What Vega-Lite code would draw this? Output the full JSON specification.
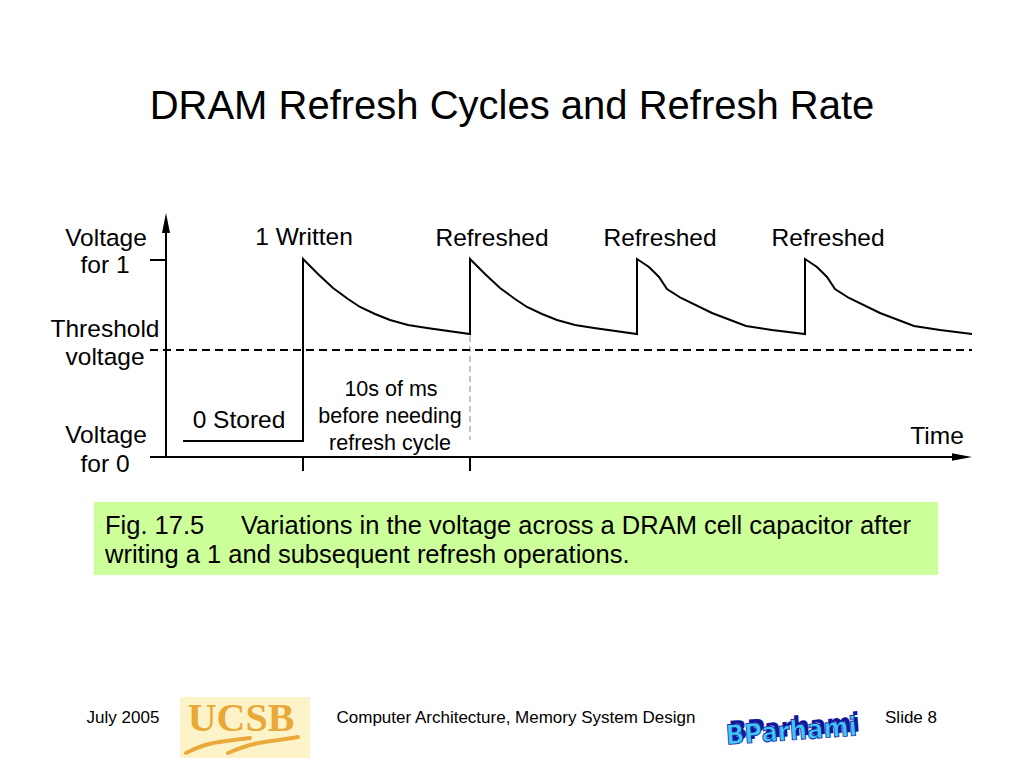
{
  "$schema": "https://vega.github.io/schema/vega-lite/v6.json",
  "autosize": {"type": "fit", "contains": "padding"},
  "width": 1024,
  "height": 768,
  "padding": 0,
  "background": "white",
  "config": {"view": {"stroke": null}, "font": "Liberation Sans"},
  "datasets": {
    "wave": [
      {"i": 0, "x": 183, "y": 441}, {"i": 1, "x": 303, "y": 441},
      {"i": 2, "x": 303, "y": 259}, {"i": 3, "x": 318, "y": 274}, {"i": 4, "x": 333, "y": 288}, {"i": 5, "x": 348, "y": 299}, {"i": 6, "x": 360, "y": 307}, {"i": 7, "x": 375, "y": 314}, {"i": 8, "x": 390, "y": 320}, {"i": 9, "x": 408, "y": 325}, {"i": 10, "x": 427, "y": 328}, {"i": 11, "x": 470, "y": 334},
      {"i": 12, "x": 470, "y": 259}, {"i": 13, "x": 485, "y": 274}, {"i": 14, "x": 500, "y": 288}, {"i": 15, "x": 515, "y": 299}, {"i": 16, "x": 527, "y": 307}, {"i": 17, "x": 542, "y": 314}, {"i": 18, "x": 557, "y": 320}, {"i": 19, "x": 575, "y": 325}, {"i": 20, "x": 594, "y": 328}, {"i": 21, "x": 637, "y": 334},
      {"i": 22, "x": 637, "y": 259}, {"i": 23, "x": 649, "y": 267}, {"i": 24, "x": 659, "y": 277}, {"i": 25, "x": 667, "y": 289}, {"i": 26, "x": 681, "y": 298}, {"i": 27, "x": 712, "y": 313}, {"i": 28, "x": 746, "y": 326}, {"i": 29, "x": 772, "y": 330}, {"i": 30, "x": 805, "y": 334},
      {"i": 31, "x": 805, "y": 259}, {"i": 32, "x": 817, "y": 267}, {"i": 33, "x": 827, "y": 277}, {"i": 34, "x": 835, "y": 289}, {"i": 35, "x": 849, "y": 298}, {"i": 36, "x": 880, "y": 313}, {"i": 37, "x": 914, "y": 326}, {"i": 38, "x": 940, "y": 330}, {"i": 39, "x": 972, "y": 334}
    ],
    "axes": [
      {"x": 166, "y": 457, "x2": 166, "y2": 226},
      {"x": 150, "y": 260, "x2": 166, "y2": 260},
      {"x": 150, "y": 457, "x2": 956, "y2": 457},
      {"x": 303, "y": 457, "x2": 303, "y2": 471},
      {"x": 470, "y": 457, "x2": 470, "y2": 471}
    ],
    "threshold": [{"x": 150, "y": 350, "x2": 972, "y2": 350}],
    "interval": [{"x": 470, "y": 336, "x2": 470, "y2": 440}],
    "arrowUp": [{"x": 166, "y": 223}],
    "arrowRight": [{"x": 962, "y": 457}],
    "box": [{"x": 94, "y": 502, "x2": 938, "y2": 575}],
    "ucsbBox": [{"x": 180, "y": 697, "x2": 310, "y2": 758}],
    "swoosh": [
      {"s": "a", "i": 0, "x": 186, "y": 753}, {"s": "a", "i": 1, "x": 205, "y": 744}, {"s": "a", "i": 2, "x": 225, "y": 741}, {"s": "a", "i": 3, "x": 250, "y": 738},
      {"s": "b", "i": 0, "x": 228, "y": 753}, {"s": "b", "i": 1, "x": 250, "y": 744}, {"s": "b", "i": 2, "x": 272, "y": 741}, {"s": "b", "i": 3, "x": 298, "y": 737}
    ],
    "title": [{"x": 512, "y": 119, "text": "DRAM Refresh Cycles and Refresh Rate"}],
    "labels": [
      {"x": 106, "y": 246, "text": "Voltage"},
      {"x": 105, "y": 273, "text": "for 1"},
      {"x": 105, "y": 337, "text": "Threshold"},
      {"x": 105, "y": 365, "text": "voltage"},
      {"x": 106, "y": 443, "text": "Voltage"},
      {"x": 105, "y": 472, "text": "for 0"},
      {"x": 304, "y": 245, "text": "1 Written"},
      {"x": 492, "y": 246, "text": "Refreshed"},
      {"x": 660, "y": 246, "text": "Refreshed"},
      {"x": 828, "y": 246, "text": "Refreshed"},
      {"x": 239, "y": 428, "text": "0 Stored"},
      {"x": 937, "y": 444, "text": "Time"}
    ],
    "note": [
      {"x": 391, "y": 396, "text": "10s of ms"},
      {"x": 390, "y": 423, "text": "before needing"},
      {"x": 390, "y": 450, "text": "refresh cycle"}
    ],
    "caption": [
      {"x": 105, "y": 534, "text": "Fig. 17.5"},
      {"x": 241, "y": 534, "text": "Variations in the voltage across a DRAM cell capacitor after"},
      {"x": 105, "y": 563, "text": "writing a 1 and subsequent refresh operations."}
    ],
    "footer": [
      {"x": 123, "y": 723, "text": "July 2005"},
      {"x": 516, "y": 723, "text": "Computer Architecture, Memory System Design"},
      {"x": 911, "y": 723, "text": "Slide 8"}
    ],
    "ucsb": [{"x": 241, "y": 731, "text": "UCSB"}],
    "parhamiBack": [{"x": 795, "y": 736, "text": "BParhami"}],
    "parhami": [{"x": 792, "y": 740, "text": "BParhami"}]
  },
  "encoding": {
    "x": {"field": "x", "type": "quantitative", "axis": null, "scale": {"domain": [0, 1024], "nice": false, "zero": false}},
    "y": {"field": "y", "type": "quantitative", "axis": null, "scale": {"domain": [0, 768], "nice": false, "zero": false, "reverse": true}}
  },
  "layer": [
    {"data": {"name": "box"}, "mark": {"type": "rect", "fill": "#ccff99"}, "encoding": {"x2": {"field": "x2"}, "y2": {"field": "y2"}}},
    {"data": {"name": "ucsbBox"}, "mark": {"type": "rect", "fill": "#fdf3c8"}, "encoding": {"x2": {"field": "x2"}, "y2": {"field": "y2"}}},
    {"data": {"name": "swoosh"}, "mark": {"type": "line", "stroke": "#eaa93a", "strokeWidth": 4, "interpolate": "basis", "strokeCap": "round"}, "encoding": {"detail": {"field": "s"}, "order": {"field": "i", "type": "quantitative"}}},
    {"data": {"name": "interval"}, "mark": {"type": "rule", "stroke": "#b0b0b0", "strokeWidth": 1.5, "strokeDash": [6, 4]}, "encoding": {"x2": {"field": "x2"}, "y2": {"field": "y2"}}},
    {"data": {"name": "threshold"}, "mark": {"type": "rule", "stroke": "black", "strokeWidth": 1.8, "strokeDash": [8, 5]}, "encoding": {"x2": {"field": "x2"}, "y2": {"field": "y2"}}},
    {"data": {"name": "axes"}, "mark": {"type": "rule", "stroke": "black", "strokeWidth": 2}, "encoding": {"x2": {"field": "x2"}, "y2": {"field": "y2"}}},
    {"data": {"name": "wave"}, "mark": {"type": "line", "stroke": "black", "strokeWidth": 2}, "encoding": {"order": {"field": "i", "type": "quantitative"}}},
    {"data": {"name": "arrowUp"}, "mark": {"type": "point", "shape": "M0,-1L0.4,1L-0.4,1Z", "filled": true, "fill": "black", "opacity": 1, "size": 400}},
    {"data": {"name": "arrowRight"}, "mark": {"type": "point", "shape": "M1,0L-1,0.38L-1,-0.38Z", "filled": true, "fill": "black", "opacity": 1, "size": 400}},
    {"data": {"name": "title"}, "mark": {"type": "text", "fontSize": 40, "align": "center", "baseline": "alphabetic", "font": "Liberation Sans", "fill": "black"}, "encoding": {"text": {"field": "text"}}},
    {"data": {"name": "labels"}, "mark": {"type": "text", "fontSize": 24.5, "align": "center", "baseline": "alphabetic", "font": "Liberation Sans", "fill": "black"}, "encoding": {"text": {"field": "text"}}},
    {"data": {"name": "note"}, "mark": {"type": "text", "fontSize": 21.5, "align": "center", "baseline": "alphabetic", "font": "Liberation Sans", "fill": "black"}, "encoding": {"text": {"field": "text"}}},
    {"data": {"name": "caption"}, "mark": {"type": "text", "fontSize": 25.5, "align": "left", "baseline": "alphabetic", "font": "Liberation Sans", "fill": "black"}, "encoding": {"text": {"field": "text"}}},
    {"data": {"name": "footer"}, "mark": {"type": "text", "fontSize": 17, "align": "center", "baseline": "alphabetic", "font": "Liberation Sans", "fill": "black"}, "encoding": {"text": {"field": "text"}}},
    {"data": {"name": "ucsb"}, "mark": {"type": "text", "fontSize": 40, "align": "center", "baseline": "alphabetic", "font": "Liberation Serif", "fontWeight": "bold", "fill": "#e9a838"}, "encoding": {"text": {"field": "text"}}},
    {"data": {"name": "parhamiBack"}, "mark": {"type": "text", "fontSize": 27, "align": "center", "baseline": "alphabetic", "font": "DejaVu Sans Condensed", "fontWeight": "bold", "fill": "#12169a", "angle": -4}, "encoding": {"text": {"field": "text"}}},
    {"data": {"name": "parhami"}, "mark": {"type": "text", "fontSize": 27, "align": "center", "baseline": "alphabetic", "font": "DejaVu Sans Condensed", "fontWeight": "bold", "fill": "#3ec8fa", "stroke": "#12169a", "strokeWidth": 0.8, "angle": -4}, "encoding": {"text": {"field": "text"}}}
  ]
}
